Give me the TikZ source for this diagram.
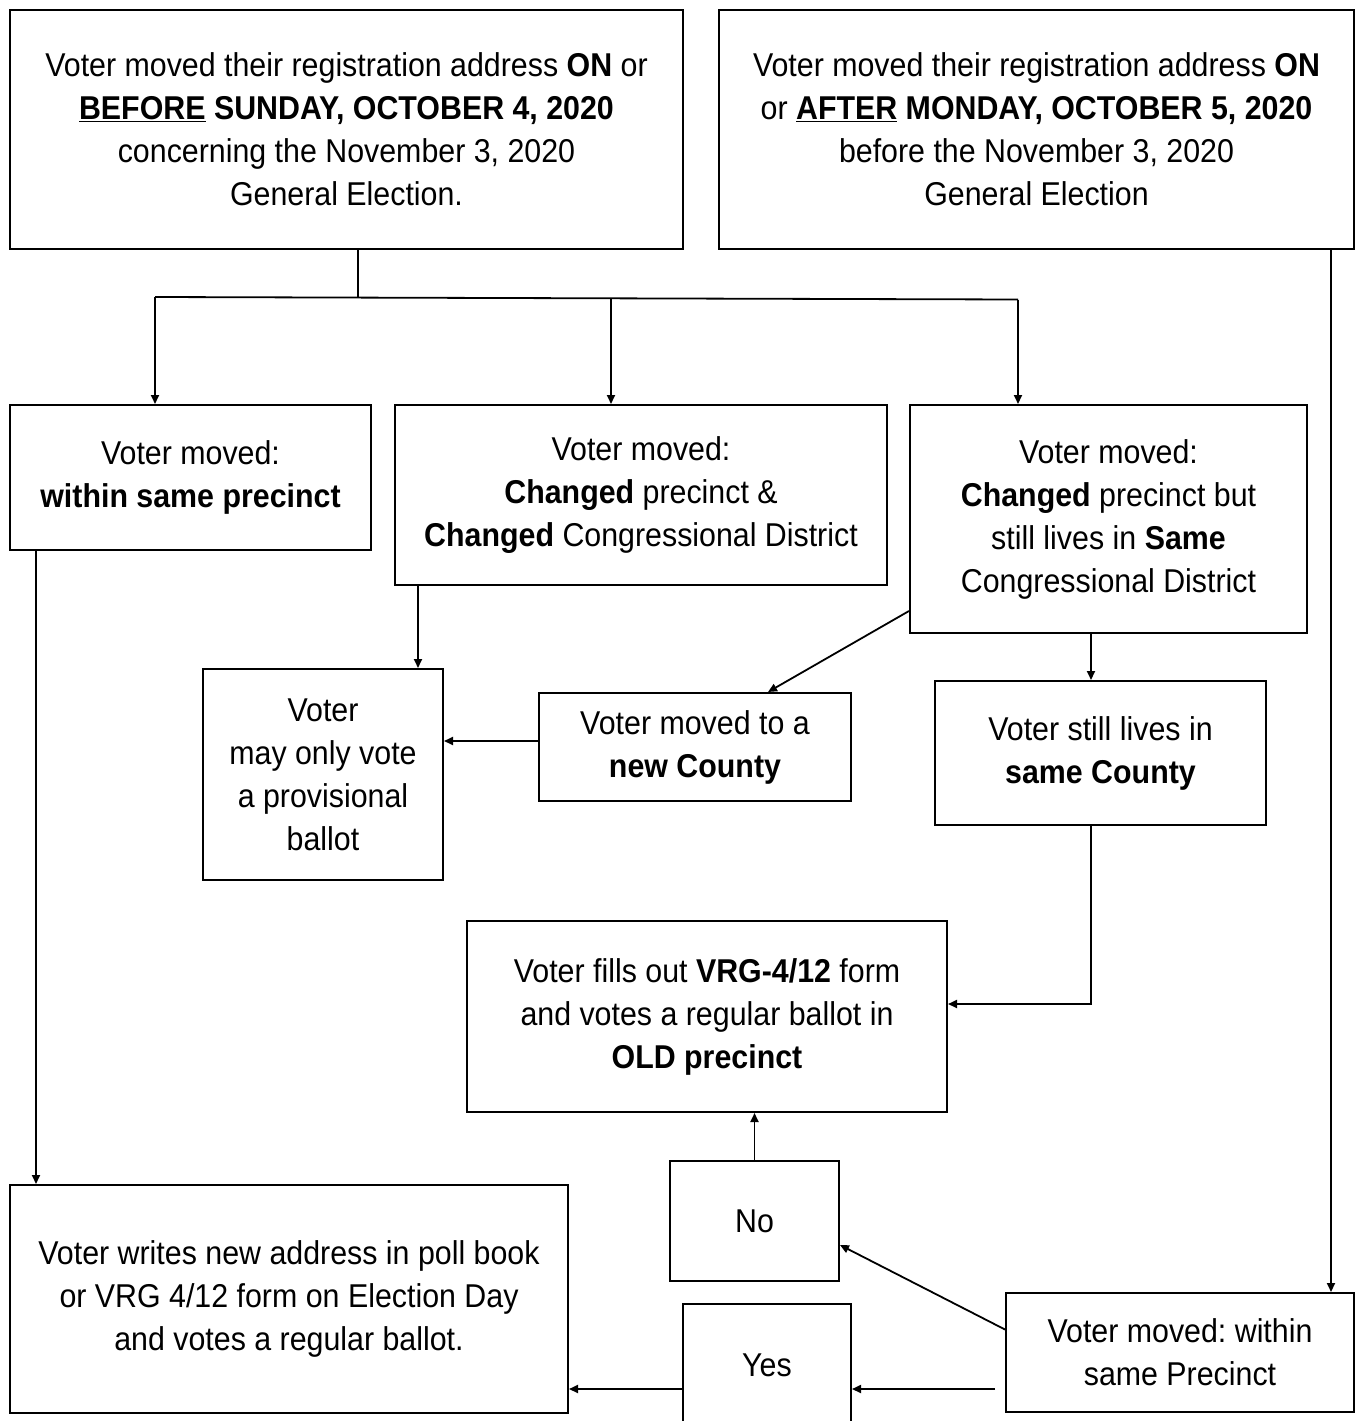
\documentclass[tikz,border=0pt]{standalone}
\usepackage{fontspec}
\setmainfont{Liberation Sans}[FakeStretch=0.92]
\usetikzlibrary{arrows.meta}
\frenchspacing
\begin{document}
\begin{tikzpicture}[x=1pt,y=-1pt,
  box/.style={draw, line width=2pt, align=center, inner sep=0pt, font=\fontsize{33}{43}\selectfont},
  arr/.style={-{Triangle[length=9pt,width=8pt]}, line width=1.8pt},
  ln/.style={line width=1.8pt}]
\useasboundingbox (0,0) rectangle (1355,1421);
\node[box, minimum width=673pt, minimum height=239pt] (b1) at (346.5,129.5)
  {Voter moved their registration address \textbf{ON} or\\ \textbf{\underline{BEFORE} SUNDAY, OCTOBER 4, 2020}\\ concerning the November 3, 2020\\ General Election.};
\node[box, minimum width=635pt, minimum height=239pt] (b2) at (1036.5,129.5)
  {Voter moved their registration address \textbf{ON}\\ or \textbf{\underline{AFTER} MONDAY, OCTOBER 5, 2020}\\ before the November 3, 2020\\ General Election};
\node[box, minimum width=361pt, minimum height=145pt] (b3) at (190.5,477.5)
  {Voter moved:\\ \textbf{within same precinct}};
\node[box, minimum width=492pt, minimum height=180pt] (b4) at (641,495)
  {Voter moved:\\ \textbf{Changed} precinct \&\\ \textbf{Changed} Congressional District};
\node[box, minimum width=397pt, minimum height=228pt] (b5) at (1108.5,519)
  {Voter moved:\\ \textbf{Changed} precinct but\\ still lives in \textbf{Same}\\ Congressional District};
\node[box, minimum width=240pt, minimum height=211pt] (b6) at (323,774.5)
  {Voter\\ may only vote\\ a provisional\\ ballot};
\node[box, minimum width=312pt, minimum height=108pt] (b7) at (695,747)
  {Voter moved to a\\ \textbf{new County}};
\node[box, minimum width=331pt, minimum height=144pt] (b8) at (1100.5,753)
  {Voter still lives in\\ \textbf{same County}};
\node[box, minimum width=480pt, minimum height=191pt] (b9) at (707,1016.5)
  {Voter fills out \textbf{VRG-4/12} form\\ and votes a regular ballot in\\ \textbf{OLD precinct}};
\node[box, minimum width=169pt, minimum height=120pt] (b10) at (754.5,1221) {No};
\node[box, minimum width=558pt, minimum height=228pt] (b11) at (289,1299)
  {Voter writes new address in poll book\\ or VRG 4/12 form on Election Day\\ and votes a regular ballot.};
\node[box, minimum width=168pt, minimum height=122pt] (b12) at (767,1365) {Yes};
\node[box, minimum width=348pt, minimum height=119pt] (b13) at (1180,1352.5)
  {Voter moved: within\\ same Precinct};
% connectors
\coordinate (j) at (358,297);
\coordinate (jl) at (155,297);
\coordinate (jm) at (611,298);
\coordinate (jr) at (1018,299.5);
\draw[ln] (b1.south -| j) -- (j);
\draw[ln] (jl) -- (jr);
\draw[arr] (jl) -- (b3.north -| jl);
\draw[arr] (jm) -- (b4.north -| jm);
\draw[arr] (jr) -- (b5.north -| jr);
\coordinate (rt) at (1331,0);
\draw[arr] (b2.south -| rt) -- (b13.north -| rt);
\coordinate (lt) at (36,0);
\draw[arr] (b3.south -| lt) -- (b11.north -| lt);
\coordinate (c4) at (418,0);
\draw[arr] (b4.south -| c4) -- (b6.north -| c4);
\draw[arr] ([yshift=23pt]b5.south west) -- ([xshift=73pt]b7.north);
\coordinate (k7) at (0,741);
\draw[arr] (b7.west |- k7) -- (b6.east |- k7);
\coordinate (c8) at (1091,0);
\draw[arr] (b5.south -| c8) -- (b8.north -| c8);
\coordinate (k8) at (1091,1004);
\draw[arr] (b8.south -| k8) -- (k8) -- (b9.east |- k8);
\draw[arr] (b10.north) -- (b9.south -| b10.north);
\draw[arr] ([yshift=23pt]b13.west) -- ([yshift=-24pt]b10.east);
\coordinate (yin) at (995,1389);
\draw[arr] (yin) -- (b12.east |- yin);
\draw[arr] (b12.west |- yin) -- (b11.east |- yin);
\end{tikzpicture}
\end{document}
